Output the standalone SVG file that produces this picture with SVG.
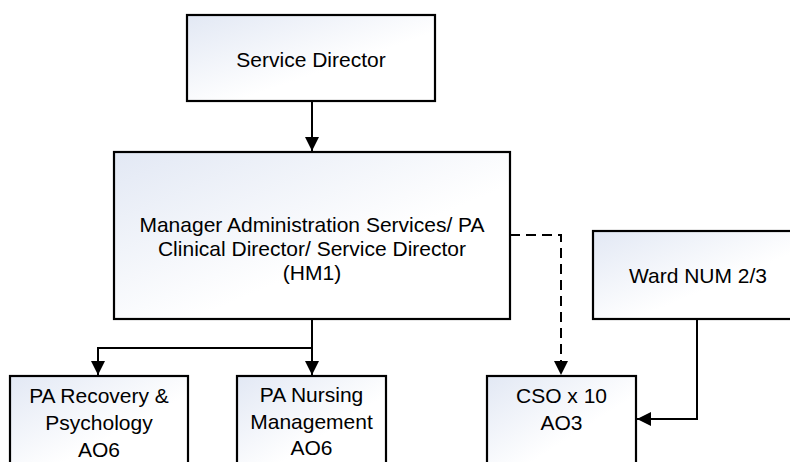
<svg xmlns="http://www.w3.org/2000/svg" width="790" height="462" viewBox="0 0 790 462">
<defs>
<linearGradient id="g" x1="0" y1="0" x2="1" y2="1">
<stop offset="0" stop-color="#e2e8f4"/>
<stop offset="0.6" stop-color="#ffffff"/>
</linearGradient>
<marker id="ah" viewBox="0 0 14 14" refX="14" refY="7" markerWidth="14" markerHeight="14" markerUnits="userSpaceOnUse" orient="auto">
<path d="M0,0 L14,7 L0,14 Z" fill="#000"/>
</marker>
<style>
.box{fill:url(#g);stroke:#000;stroke-width:2.2}
.t{font-family:"Liberation Sans",Arial,sans-serif;font-size:21px;fill:#000;text-anchor:middle}
.c{fill:none;stroke:#000;stroke-width:2}
.d{stroke-dasharray:10,6}
</style>
</defs>
<rect width="790" height="462" fill="#fff"/>
<g id="connectors">
<path class="c" d="M312 101 V151" marker-end="url(#ah)"/>
<path class="c" d="M312 319 V348 H98 V375" marker-end="url(#ah)"/>
<path class="c" d="M312 319 V375" marker-end="url(#ah)"/>
<path class="c d" d="M510 235 H561 V375" marker-end="url(#ah)"/>
<path class="c" d="M697 319 V419 H637" marker-end="url(#ah)"/>
</g>
<g id="service-director">
<rect class="box" x="187" y="15" width="248" height="86"/>
<text class="t" x="311" y="67">Service Director</text>
</g>
<g id="manager">
<rect class="box" x="114" y="152" width="396" height="167"/>
<text class="t" x="312" y="232">Manager Administration Services/ PA</text>
<text class="t" x="312" y="256">Clinical Director/ Service Director</text>
<text class="t" x="312" y="280">(HM1)</text>
</g>
<g id="ward-num">
<rect class="box" x="593" y="231" width="211" height="88"/>
<text class="t" x="698" y="283">Ward NUM 2/3</text>
</g>
<g id="pa-recovery">
<rect class="box" x="10" y="376" width="178" height="96"/>
<text class="t" x="99" y="403">PA Recovery &amp;</text>
<text class="t" x="99" y="430">Psychology</text>
<text class="t" x="99" y="457">AO6</text>
</g>
<g id="pa-nursing">
<rect class="box" x="237" y="376" width="149" height="96"/>
<text class="t" x="311.5" y="402">PA Nursing</text>
<text class="t" x="311.5" y="428.5">Management</text>
<text class="t" x="311.5" y="455">AO6</text>
</g>
<g id="cso">
<rect class="box" x="487" y="376" width="149" height="96"/>
<text class="t" x="561.5" y="403">CSO x 10</text>
<text class="t" x="561.5" y="430">AO3</text>
</g>
</svg>
